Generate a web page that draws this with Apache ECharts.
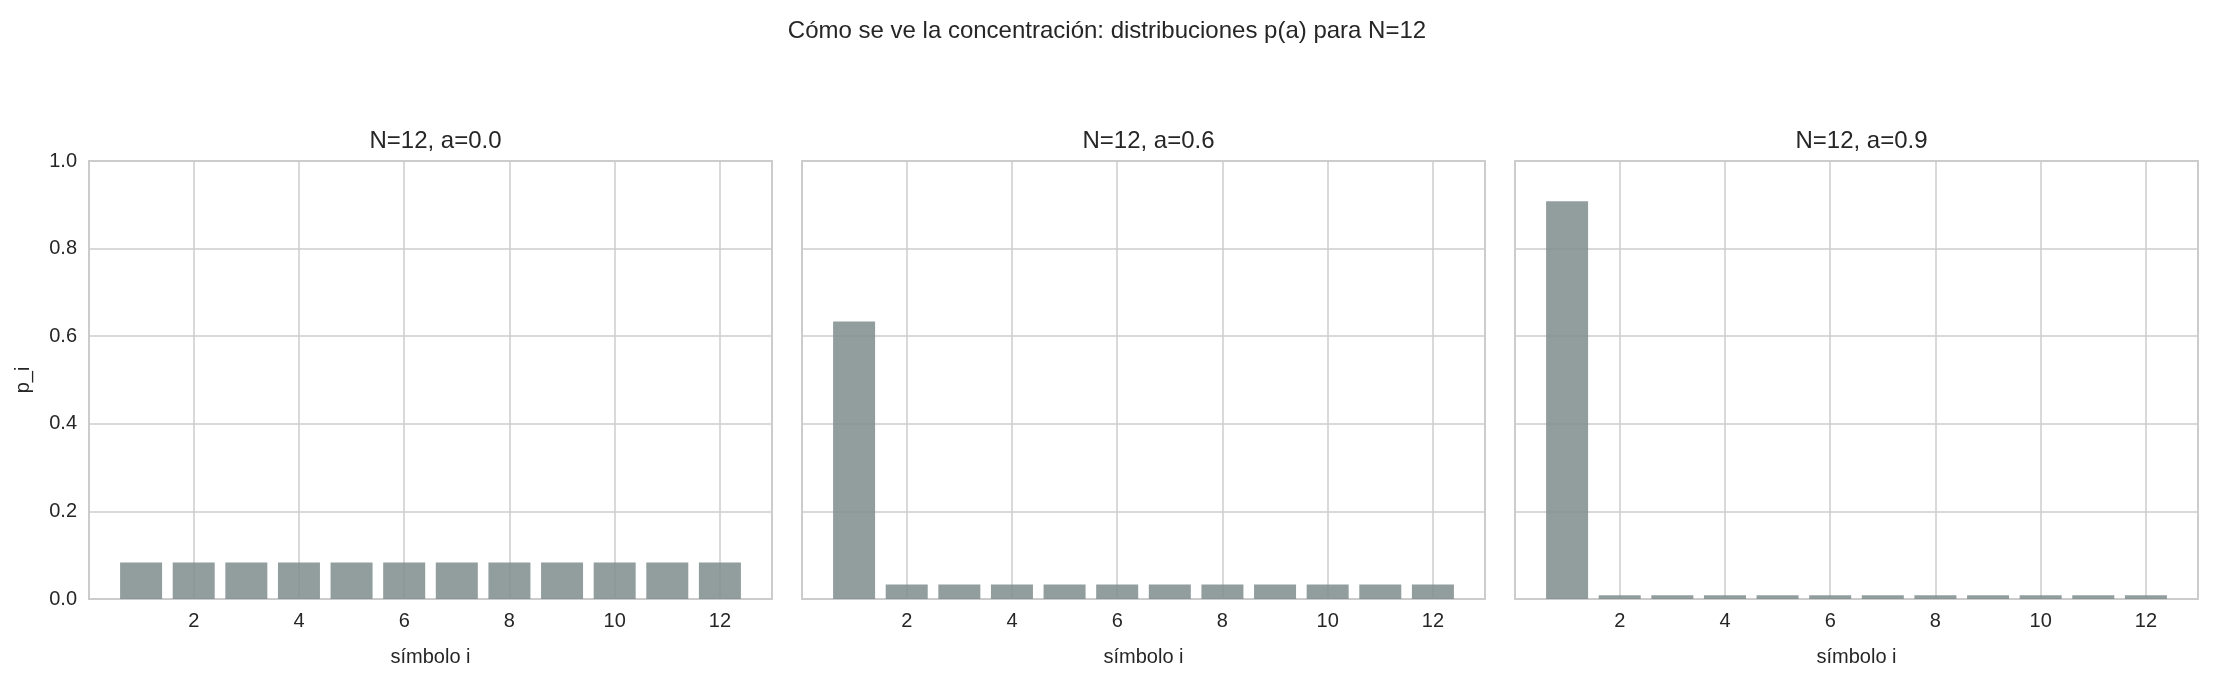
<!DOCTYPE html>
<html><head><meta charset="utf-8">
<script src="https://cdn.jsdelivr.net/npm/echarts@6/dist/echarts.min.js"></script>
<style>html,body{margin:0;background:#fff}#c{width:2214px;height:676px}</style></head>
<body><div id="c"></div>
<script>
const symbols = [1,2,3,4,5,6,7,8,9,10,11,12];
const titles = ['N=12, a=0.0','N=12, a=0.6','N=12, a=0.9'];
const p0 = [0.0833,0.0833,0.0833,0.0833,0.0833,0.0833,0.0833,0.0833,0.0833,0.0833,0.0833,0.0833];
const p6 = [0.6333,0.0333,0.0333,0.0333,0.0333,0.0333,0.0333,0.0333,0.0333,0.0333,0.0333,0.0333];
const p9 = [0.9083,0.0083,0.0083,0.0083,0.0083,0.0083,0.0083,0.0083,0.0083,0.0083,0.0083,0.0083];
const xTicks = [2,4,6,8,10,12];
const yTicks = [0,0.2,0.4,0.6,0.8,1.0];
const series = [p0,p6,p9];
const lefts = [89,802,1515], W = 683;
const font = 'Liberation Sans, DejaVu Sans, sans-serif';
const ch = echarts.init(document.getElementById('c'));
const opt = {
  backgroundColor:'#fff', animation:false,
  title:[{text:'Cómo se ve la concentración: distribuciones p(a) para N=12', left:'center', top:14,
    textStyle:{fontFamily:font,fontSize:24,fontWeight:'normal',color:'#262626'}}]
    .concat(titles.map((t,i)=>({text:t,left:lefts[i]+W/2,textAlign:'center',top:124,
    textStyle:{fontFamily:font,fontSize:24,fontWeight:'normal',color:'#262626'}}))),
  grid: lefts.map(l=>({left:l,width:W,top:161,height:438,show:true,borderColor:'#cccccc',borderWidth:2,containLabel:false})),
  xAxis: lefts.map((l,i)=>({type:'value',gridIndex:i,min:0.01,max:12.99,
    name:'símbolo i',nameLocation:'middle',nameGap:48,nameTextStyle:{fontFamily:font,fontSize:20,color:'#262626'},
    axisLine:{show:false},axisTick:{show:false},
    axisLabel:{customValues:xTicks,fontFamily:font,fontSize:20,color:'#262626',margin:12},
    splitLine:{show:false}})),
  yAxis: lefts.map((l,i)=>({type:'value',gridIndex:i,min:0,max:1,interval:0.2,
    name:i===0?'p_i':'',nameLocation:'middle',nameGap:56,nameTextStyle:{fontFamily:font,fontSize:20,color:'#262626'},
    axisLine:{show:false},axisTick:{show:false},
    axisLabel:{show:i===0,fontFamily:font,fontSize:20,color:'#262626',margin:12,formatter:v=>v.toFixed(1)},
    splitLine:{show:true,lineStyle:{color:'#cccccc',width:1.5}}})),
  series: series.map((d,i)=>({type:'bar',xAxisIndex:i,yAxisIndex:i,barWidth:42,
    data:symbols.map((s,k)=>[s,d[k]]),
    itemStyle:{color:'rgba(127,140,141,0.85)'},
    markLine:{silent:true,symbol:'none',label:{show:false},z:0,
      lineStyle:{color:'#cccccc',width:1.5,type:'solid'},
      data:xTicks.map(t=>({xAxis:t}))}}))
};
ch.setOption(opt);
</script></body></html>
